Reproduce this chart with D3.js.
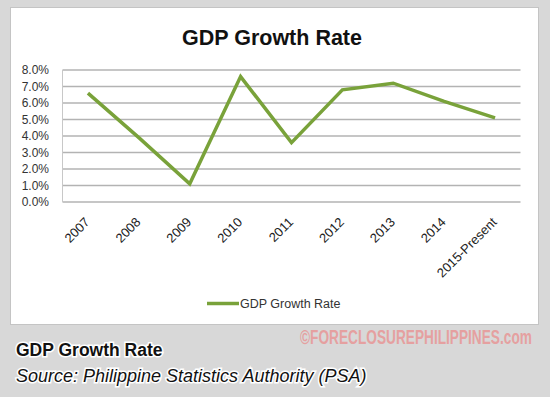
<!DOCTYPE html>
<html>
<head>
<meta charset="utf-8">
<script src="https://cdn.jsdelivr.net/npm/d3@7"></script>
<style>
  body { margin: 0; background: #d8d8d8; }
  svg { display: block; font-family: "Liberation Sans", Arial, sans-serif; }
</style>
</head>
<body>
<svg id="vis" width="550" height="397"></svg>
<script>
// data
var years = ["2007", "2008", "2009", "2010", "2011", "2012", "2013", "2014", "2015-Present"];
var growth = [6.6, 3.9, 1.1, 7.6, 3.6, 6.8, 7.2, 6.1, 5.1];
var yTicks = [0, 1, 2, 3, 4, 5, 6, 7, 8];
var seriesName = "GDP Growth Rate";

var svg = d3.select("#vis");

// white chart panel
svg.append("rect")
    .attr("x", 10.5).attr("y", 7.5)
    .attr("width", 528).attr("height", 317)
    .attr("fill", "white")
    .attr("stroke", "#c4c4c4");

// title
svg.append("text")
    .attr("x", 272).attr("y", 45)
    .attr("text-anchor", "middle")
    .style("font-size", "21.5px")
    .style("font-weight", "bold")
    .attr("fill", "#111")
    .text("GDP Growth Rate");

// scales
var x = d3.scalePoint()
    .domain(years)
    .range([62.5, 520.5])
    .padding(0.5);

var y = d3.scaleLinear()
    .domain([0, 8])
    .range([202, 70]);

// gridlines
svg.append("g").selectAll("line")
    .data(yTicks)
    .enter()
    .append("line")
    .attr("x1", 62.5).attr("x2", 520.5)
    .attr("y1", function(d){ return y(d); })
    .attr("y2", function(d){ return y(d); })
    .attr("stroke", "#b3b3b3")
    .attr("stroke-width", 1.5);

// left axis line
svg.append("line")
    .attr("x1", 62.5).attr("x2", 62.5)
    .attr("y1", y(8)).attr("y2", y(0))
    .attr("stroke", "#c8c8c8")
    .attr("stroke-width", 1);

// y labels via axis
var yAxis = svg.append("g")
    .attr("transform", "translate(52,0)")
    .call(d3.axisLeft(y).tickValues(yTicks).tickSize(0).tickPadding(0)
        .tickFormat(function(d){ return d3.format(".1f")(d) + "%"; }));
yAxis.select(".domain").remove();
yAxis.selectAll("text")
    .style("font-size", "12px")
    .attr("fill", "#333")
    .attr("x", -3);

// x labels via axis
var xAxis = svg.append("g")
    .attr("transform", "translate(0," + y(0) + ")")
    .call(d3.axisBottom(x).tickSize(0).tickPadding(0));
xAxis.select(".domain").remove();
xAxis.selectAll("text")
    .style("font-size", "13px")
    .attr("fill", "#222")
    .attr("text-anchor", "end")
    .attr("dy", null)
    .attr("y", 0)
    .attr("transform", "translate(2,21) rotate(-45)");

// the line
var line = d3.line()
    .x(function(d, i){ return x(years[i]); })
    .y(function(d){ return y(d); });

svg.append("path")
    .datum(growth)
    .attr("d", line)
    .attr("fill", "none")
    .attr("stroke", "#79a23a")
    .attr("stroke-width", 3.5)
    .attr("stroke-linejoin", "miter");

// legend
svg.append("line")
    .attr("x1", 207).attr("x2", 239)
    .attr("y1", 303.5).attr("y2", 303.5)
    .attr("stroke", "#79a23a")
    .attr("stroke-width", 3.5);
svg.append("text")
    .attr("x", 240).attr("y", 308)
    .style("font-size", "12.5px")
    .attr("fill", "#333")
    .text(seriesName);

// watermark, squeezed horizontally like a condensed face
var wm = svg.append("text")
    .attr("x", 0).attr("y", 0)
    .style("font-size", "20px")
    .style("font-weight", "bold")
    .attr("fill", "#e5a0a0")
    .text("©FORECLOSUREPHILIPPINES.com");
var wmW = wm.node().getComputedTextLength();
wm.attr("transform", "translate(300,344) scale(" + (232 / wmW) + ",1)");

// caption below
svg.append("text")
    .attr("x", 16).attr("y", 356)
    .style("font-size", "17.5px")
    .style("font-weight", "bold")
    .attr("fill", "#111")
    .attr("stroke", "white")
    .attr("stroke-width", 3)
    .attr("paint-order", "stroke")
    .text("GDP Growth Rate");

svg.append("text")
    .attr("x", 16).attr("y", 382)
    .style("font-size", "18px")
    .style("font-style", "italic")
    .attr("fill", "#111")
    .attr("stroke", "white")
    .attr("stroke-width", 3)
    .attr("paint-order", "stroke")
    .text("Source: Philippine Statistics Authority (PSA)");
</script>
</body>
</html>
